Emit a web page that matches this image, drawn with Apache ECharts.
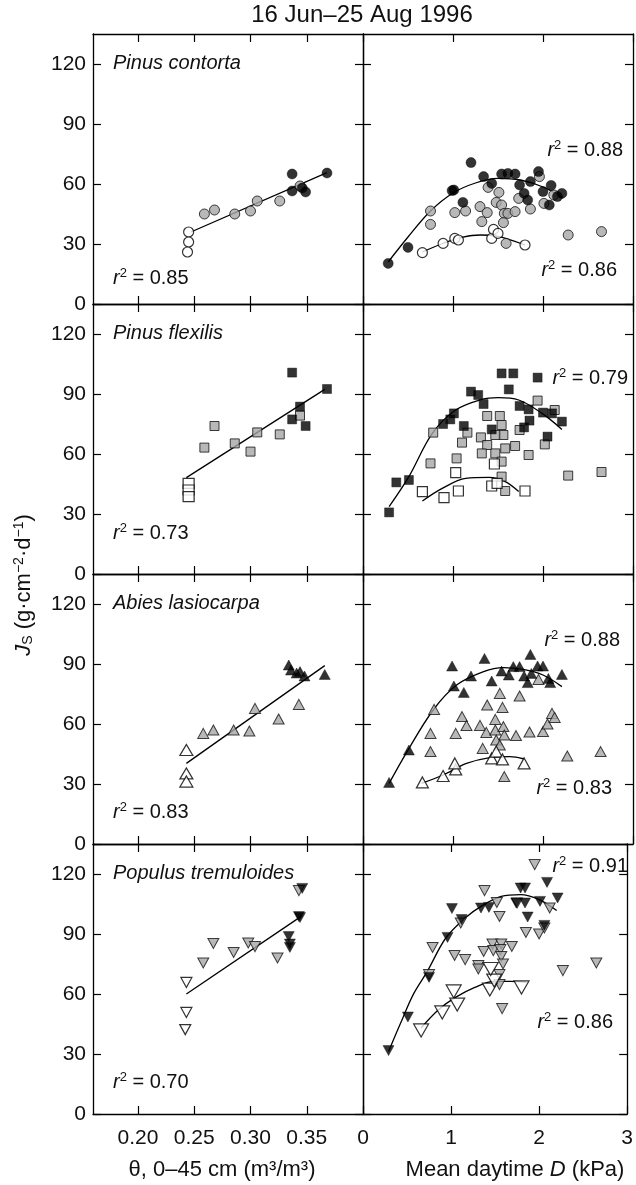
<!DOCTYPE html>
<html><head><meta charset="utf-8">
<script src="https://cdn.jsdelivr.net/npm/echarts@6/dist/echarts.min.js"></script>
<style>html,body{margin:0;padding:0;background:#fff}#c{width:636px;height:1185px}</style>
</head><body><div id="c"></div>
<script>
// ---------- tick labels ----------
const yTicks = [0, 30, 60, 90, 120];
const thetaTicks = [0.20, 0.25, 0.30, 0.35];
const thetaTickLabels = ['0.20', '0.25', '0.30', '0.35'];
const dTicks = [0, 1, 2, 3];
const speciesNames = ['Pinus contorta', 'Pinus flexilis', 'Abies lasiocarpa', 'Populus tremuloides'];
const leftR2 = ['0.85', '0.73', '0.83', '0.70'];
const rightR2 = [['0.88', '0.86'], ['0.79'], ['0.88', '0.83'], ['0.91', '0.86']];

// ---------- Pinus contorta (circles) ----------
const pcThetaOpen = [[0.245,36],[0.245,31],[0.244,26]];
const pcThetaGray = [[0.259,45],[0.268,47],[0.286,45],[0.300,46.5],[0.306,51.5],[0.326,51.5],[0.344,59]];
const pcThetaBlack = [[0.337,65],[0.337,56.5],[0.346,58],[0.349,56],[0.368,65.5]];
const pcThetaFit = [[0.247,36],[0.368,65.7]];
const pcDOpen = [[0.66,25.7],[0.89,30.3],[1.02,32.8],[1.06,32],[1.43,32.8],[1.45,37.3],[1.50,35.3],[1.80,29.5]];
const pcDGray = [[0.75,46.5],[0.75,39.8],[1.02,45.7],[1.14,46.5],[1.30,48.7],[1.32,41.2],[1.38,45.7],[1.48,50.8],[1.51,55.8],[1.54,49.5],[1.57,45.3],[1.56,40.7],[1.61,45.3],[1.69,46.2],[1.39,58.3],[1.73,52.8],[1.86,47.5],[1.96,63.7],[2.01,50.3],[2.12,54.5],[2.28,34.5],[2.65,36.2],[1.59,30.3]];
const pcDBlack = [[0.28,20.3],[0.50,28.3],[0.99,56.7],[1.01,57],[1.20,70.7],[1.11,50.8],[1.34,63.7],[1.43,60.3],[1.54,65],[1.61,65.3],[1.69,65],[1.74,59.5],[1.79,55.3],[1.83,52],[1.86,61.2],[1.95,66.2],[2.00,56.2],[2.09,59.3],[2.07,49.5],[2.21,55.3],[2.16,53.7]];
const pcDFitBlack = [[0.28,21],[0.5,33.5],[0.75,46.5],[1.0,55.5],[1.25,60.5],[1.5,62.8],[1.75,62],[2.0,58.5],[2.22,53]];
const pcDFitOpen = [[0.66,26],[0.9,30.5],[1.1,33.3],[1.3,34.5],[1.5,33.8],[1.8,29.5]];

// ---------- Pinus flexilis (squares) ----------
const pfThetaOpen = [[0.245,45.3],[0.245,42],[0.245,38.7]];
const pfThetaGray = [[0.259,63.2],[0.268,74],[0.286,65.3],[0.300,61.2],[0.306,70.8],[0.326,69.8],[0.344,79.2]];
const pfThetaBlack = [[0.337,100.7],[0.337,77.3],[0.344,83.7],[0.349,74],[0.368,92.5]];
const pfThetaFit = [[0.243,48.2],[0.366,92.3]];
const pfDOpen = [[0.66,41.2],[0.90,38.2],[1.06,41.5],[1.03,50.7],[1.43,44],[1.49,45.3],[1.46,55],[1.80,41.5]];
const pfDGray = [[0.78,70.7],[0.75,55.3],[1.10,65.7],[1.04,57.8],[1.16,70.7],[1.38,79],[1.52,79],[1.54,74.5],[1.56,69.5],[1.47,69.5],[1.31,68.3],[1.38,64.5],[1.32,60.3],[1.47,60.3],[1.58,62.8],[1.69,64],[1.54,56.2],[1.84,59.5],[1.74,72],[1.94,86.7],[2.13,82],[2.02,64.8],[1.54,48.7],[1.58,41.5],[2.28,49.2],[2.65,51]];
const pfDBlack = [[0.29,30.8],[0.37,45.8],[0.51,47],[0.89,75],[0.97,77.3],[1.01,80.3],[1.20,91.2],[1.28,89.5],[1.34,85],[1.12,74],[1.43,72.3],[1.54,100.3],[1.67,100.3],[1.62,92.3],[1.74,84],[1.84,82.3],[1.85,76.7],[1.79,73.3],[1.94,98.2],[2.00,80.7],[2.10,80.3],[2.05,68.7],[2.21,76.2]];
const pfDFitBlack = [[0.29,33.7],[0.51,48.7],[0.77,70.3],[1.03,82],[1.32,87.3],[1.5,88.2],[1.73,87],[1.99,80.3],[2.21,72.3]];
const pfDFitOpen = [[0.66,36.5],[0.88,42.8],[1.14,47.8],[1.40,48.3],[1.58,46.2],[1.73,41.2]];

// ---------- Abies lasiocarpa (triangles) ----------
const alThetaOpen = [[0.243,47],[0.243,35.3],[0.243,31.2]];
const alThetaGray = [[0.258,55.3],[0.267,57],[0.285,57],[0.299,56.5],[0.304,67.8],[0.325,62.5],[0.343,69.8]];
const alThetaBlack = [[0.334,89.5],[0.336,87],[0.344,86.2],[0.348,84],[0.366,84.8],[0.341,85.5]];
const alThetaFit = [[0.243,40.3],[0.366,89.2]];
const alDOpen = [[0.66,30.8],[0.89,34],[1.03,37.3],[1.02,40.3],[1.43,42.8],[1.48,46.2],[1.55,42.3],[1.79,40.3]];
const alDGray = [[0.79,67.3],[0.75,55.3],[0.75,46.2],[1.03,55.3],[1.10,63.7],[1.15,59.2],[1.30,59.3],[1.33,47.8],[1.37,55.8],[1.38,69.5],[1.52,75.3],[1.55,68.3],[1.47,62.3],[1.47,57],[1.56,58.7],[1.57,54.5],[1.48,52],[1.52,49.5],[1.70,54.2],[1.74,74],[1.85,56],[2.00,56.2],[2.05,60],[2.10,65.3],[2.13,63.3],[1.95,82.3],[1.57,33.7],[2.27,44],[2.64,46.2]];
const alDBlack = [[0.29,30.8],[0.51,47],[0.99,89],[1.01,79],[1.12,75.8],[1.20,84],[1.35,92.8],[1.43,81.5],[1.54,86.5],[1.62,84.5],[1.67,88.7],[1.74,88.7],[1.79,84],[1.83,80.7],[1.86,94.8],[1.87,85.3],[1.94,89],[2.00,89],[2.06,82.8],[2.08,80.7],[2.21,84.8]];
const alDFitBlack = [[0.29,30.3],[0.49,46.2],[0.78,67],[1.04,79.5],[1.34,86.2],[1.56,88.2],[1.78,87.3],[2.0,84.5],[2.21,78.7]];
const alDFitOpen = [[0.65,30.3],[0.89,34.5],[1.15,40.3],[1.41,43.2],[1.63,43.7],[1.79,42.5]];

// ---------- Populus tremuloides (inverted triangles) ----------
const ptThetaOpen = [[0.243,65.8],[0.243,50.8],[0.242,42.2]];
const ptThetaGray = [[0.258,75.5],[0.267,85.3],[0.285,80.8],[0.298,85.5],[0.304,83.7],[0.324,78],[0.343,111.7]];
const ptThetaBlack = [[0.346,112.8],[0.343,98.7],[0.344,98.2],[0.334,88.7],[0.335,85],[0.335,83.3]];
const ptThetaFit = [[0.243,60],[0.346,99.2]];
const ptDOpen = [[0.66,41.8],[0.90,50.8],[1.03,61.3],[1.07,54.7],[1.44,62.2],[1.49,66.7],[1.45,72.5],[1.80,63.3]];
const ptDGray = [[0.79,83.3],[0.75,69.7],[1.04,79.3],[1.11,95.5],[1.16,77.2],[1.31,74.2],[1.31,72.5],[1.38,111.7],[1.52,105.8],[1.37,81.3],[1.47,85],[1.57,85],[1.48,81.7],[1.56,82.2],[1.57,78.8],[1.59,75],[1.69,83.8],[1.55,98.8],[1.55,69.7],[1.55,64.7],[1.85,90.8],[2.00,90],[2.06,93],[2.12,103],[1.95,124.7],[2.27,71.7],[2.65,75.5],[1.58,52.7],[1.75,105.5]];
const ptDBlack = [[0.29,31.7],[0.51,48.5],[0.75,68.3],[0.96,88.3],[1.01,102.7],[1.12,97.2],[1.34,103],[1.43,103.3],[1.79,113],[1.84,113],[1.74,105.5],[1.84,105.5],[1.87,98.5],[2.01,106.3],[2.06,94.3],[2.09,115.8],[2.21,108]];
const ptDFitBlack = [[0.29,31.3],[0.42,44.7],[0.57,59.7],[0.73,71.3],[0.94,88],[1.16,98],[1.34,103.8],[1.57,108.8],[1.79,109.7],[2.0,107.2],[2.2,101.7]];
const ptDFitOpen = [[0.66,43],[0.86,52.2],[1.05,58.3],[1.27,63.3],[1.49,66.3],[1.68,66.3],[1.86,65.8]];

// ---------- layout & style ----------
const FONT = '"Liberation Sans", Arial, Helvetica, sans-serif';
const GL = [93, 363], GW = 270, GT = 34, GH = 270;
const SHAPES = {
  circle: {symbol: 'circle', size: 10, openSize: 10},
  square: {symbol: 'rect', size: 9, openSize: 10},
  up: {symbol: 'triangle', size: [11, 10], openSize: [12, 11]},
  down: {symbol: 'path://M0,0L10,0L5,9Z', size: [11, 10], openSize: [11, 10]}
};
const panels = [
  {r:0,c:0,shape:'circle',open:pcThetaOpen,gray:pcThetaGray,black:pcThetaBlack,fits:[pcThetaFit]},
  {r:0,c:1,shape:'circle',open:pcDOpen,gray:pcDGray,black:pcDBlack,fits:[pcDFitBlack,pcDFitOpen]},
  {r:1,c:0,shape:'square',open:pfThetaOpen,gray:pfThetaGray,black:pfThetaBlack,fits:[pfThetaFit],openSize:[11,10]},
  {r:1,c:1,shape:'square',open:pfDOpen,gray:pfDGray,black:pfDBlack,fits:[pfDFitBlack,pfDFitOpen]},
  {r:2,c:0,shape:'up',open:alThetaOpen,gray:alThetaGray,black:alThetaBlack,fits:[alThetaFit],openSize:[13,11]},
  {r:2,c:1,shape:'up',open:alDOpen,gray:alDGray,black:alDBlack,fits:[alDFitBlack,alDFitOpen]},
  {r:3,c:0,shape:'down',open:ptThetaOpen,gray:ptThetaGray,black:ptThetaBlack,fits:[ptThetaFit]},
  {r:3,c:1,shape:'down',open:ptDOpen,gray:ptDGray,black:ptDBlack,fits:[ptDFitBlack,ptDFitOpen],openSize:[15,13]}
];

const axisLine = {show: true, onZero: false, lineStyle: {color: '#000', width: 1.3}};
const tickStyle = {color: '#000', width: 1.2};
const grids = [], xAxes = [], yAxes = [], series = [];

panels.forEach((p, g) => {
  grids.push({left: GL[p.c], top: GT + p.r * GH, width: GW, height: GH, containLabel: false});
  const isTheta = p.c === 0;
  const xBase = isTheta
    ? {min: 0.16, max: 0.40, ticks: thetaTicks, fmt: v => thetaTickLabels[thetaTicks.findIndex(t => Math.abs(t - v) < 1e-6)] || ''}
    : {min: 0, max: 3, ticks: dTicks, fmt: v => String(v)};
  ['bottom', 'top'].forEach(pos => {
    xAxes.push({
      gridIndex: g, type: 'value', position: pos, min: xBase.min, max: xBase.max,
      axisLine: axisLine,
      axisTick: {show: true, inside: true, length: 8, customValues: xBase.ticks, lineStyle: tickStyle},
      axisLabel: {show: pos === 'bottom' && p.r === 3, customValues: xBase.ticks, formatter: xBase.fmt,
        fontSize: 21, fontFamily: FONT, color: '#111', margin: 14},
      splitLine: {show: false}
    });
  });
  ['left', 'right'].forEach(pos => {
    yAxes.push({
      gridIndex: g, type: 'value', position: pos, min: 0, max: 135,
      axisLine: axisLine,
      axisTick: {show: true, inside: true, length: 8, customValues: yTicks, lineStyle: tickStyle},
      axisLabel: {show: pos === 'left' && p.c === 0, customValues: yTicks, fontSize: 21, fontFamily: FONT, color: '#111', margin: 7},
      splitLine: {show: false}
    });
  });
  const xi = 2 * g, yi = 2 * g;
  p.fits.forEach(f => {
    series.push({type: 'line', xAxisIndex: xi, yAxisIndex: yi, data: f, showSymbol: false, symbol: 'none',
      smooth: f.length > 2 ? 0.35 : false, lineStyle: {color: '#000', width: 1.3}, z: 3, silent: true});
  });
  const sh = SHAPES[p.shape];
  series.push({type: 'scatter', xAxisIndex: xi, yAxisIndex: yi, data: p.gray, symbol: sh.symbol, symbolSize: sh.size,
    itemStyle: {color: '#a6a6a6', borderColor: '#111', borderWidth: 1}, z: 4});
  series.push({type: 'scatter', xAxisIndex: xi, yAxisIndex: yi, data: p.open, symbol: sh.symbol, symbolSize: p.openSize || sh.openSize,
    itemStyle: {color: '#fff', borderColor: '#000', borderWidth: 1.2}, z: 5});
  series.push({type: 'scatter', xAxisIndex: xi, yAxisIndex: yi, data: p.black, symbol: sh.symbol, symbolSize: sh.size,
    itemStyle: {color: '#000', borderColor: '#000', borderWidth: 0.5}, z: 6});
});

// ---------- text annotations ----------
function txt(text, x, y, opts) {
  const st = Object.assign({text: text, x: 0, y: 0, fontFamily: FONT, fontSize: 20, fill: '#111',
    align: 'left', textAlign: 'left', verticalAlign: 'middle', textVerticalAlign: 'middle'}, opts || {});
  if (st.align) st.textAlign = st.align;
  return {type: 'text', x: x, y: y, z: 100, style: st};
}
const r2Rich = {
  i: {fontStyle: 'italic', fontSize: 20, fontFamily: FONT, fill: '#111'},
  s: {fontSize: 13, fontFamily: FONT, fill: '#111', padding: [0, 0, 9, 0]},
  n: {fontSize: 20, fontFamily: FONT, fill: '#111'}
};
const r2 = v => '{i|r}{s|2}{n| = ' + v + '}';
const graphics = [];
graphics.push(txt('16 Jun\u201325 Aug 1996', 362, 15, {fontSize: 24, align: 'center'}));
speciesNames.forEach((s, i) => graphics.push(txt(s, 113, GT + i * GH + 29, {fontStyle: 'italic', fontSize: 20})));
const leftR2Y = [278, 533, 812, 1082];
leftR2.forEach((v, i) => graphics.push(txt(r2(v), 113, leftR2Y[i], {rich: r2Rich})));
const rightR2Pos = [[[623, 150], [617, 270]], [[628, 378]], [[620, 640], [612, 788]], [[628, 866], [613, 1022]]];
rightR2.forEach((arr, i) => arr.forEach((v, k) => {
  const pos = rightR2Pos[i][k];
  graphics.push(txt(r2(v), pos[0], pos[1], {rich: r2Rich, align: 'right'}));
}));
graphics.push(txt('\u03b8, 0\u201345 cm (m\u00b3/m\u00b3)', 222, 1170, {fontSize: 22, align: 'center'}));
graphics.push(txt('{n|Mean daytime }{i|D}{n| (kPa)}', 515, 1170, {align: 'center', rich: {
  n: {fontSize: 22, fontFamily: FONT, fill: '#111'}, i: {fontSize: 22, fontStyle: 'italic', fontFamily: FONT, fill: '#111'}}}));
const yt = txt('{i|J}{sub|S}{n| (g\u00b7cm}{sup|\u22122}{n|\u00b7d}{sup|\u22121}{n|)}', 0, 0, {align: 'center', rich: {
  n: {fontSize: 22, fontFamily: FONT, fill: '#111'},
  i: {fontSize: 22, fontStyle: 'italic', fontFamily: FONT, fill: '#111'},
  sub: {fontSize: 14, fontFamily: FONT, fill: '#111', padding: [9, 0, 0, 0]},
  sup: {fontSize: 14, fontFamily: FONT, fill: '#111', padding: [0, 0, 10, 0]}}});
yt.x = 24; yt.y = 585; yt.rotation = Math.PI / 2;
graphics.push(yt);

const chart = echarts.init(document.getElementById('c'), null, {renderer: 'canvas'});
chart.setOption({
  animation: false,
  backgroundColor: '#fff',
  grid: grids, xAxis: xAxes, yAxis: yAxes, series: series,
  graphic: {elements: graphics}
});
</script></body></html>
